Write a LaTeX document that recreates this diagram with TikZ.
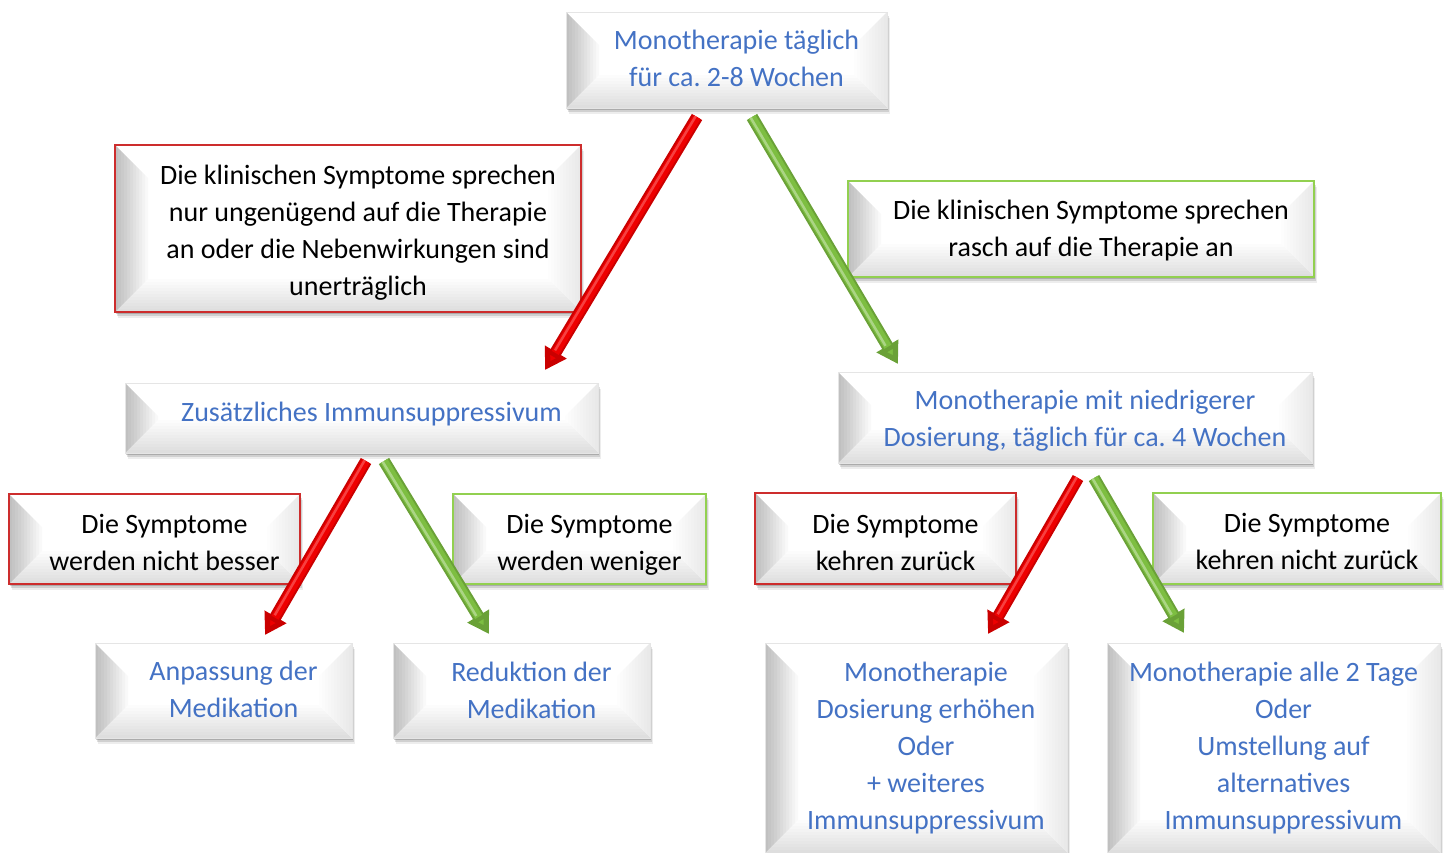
\documentclass[tikz,border=0pt]{standalone}
\usepackage{fontspec}
\setmainfont{Carlito}
\usetikzlibrary{arrows.meta,shadows,calc}
\frenchspacing
\definecolor{txtblue}{RGB}{68,114,196}
\definecolor{boxred}{RGB}{205,45,45}
\definecolor{boxgreen}{RGB}{146,208,80}
\definecolor{arrred}{RGB}{238,0,0}
\definecolor{arrgreen}{RGB}{125,190,65}
\tikzset{
  bevelbox/.style={rectangle, draw=black!10, line width=0.8pt, fill=white,
    drop shadow={shadow xshift=1pt, shadow yshift=-2pt, opacity=0.18, fill=black},
    drop shadow={shadow xshift=2pt, shadow yshift=-4pt, opacity=0.12, fill=black},
    drop shadow={shadow xshift=3pt, shadow yshift=-6pt, opacity=0.07, fill=black},
    path picture={
      \path let \p1=(path picture bounding box.north west), \p2=(path picture bounding box.south east) in
        \pgfextra{\xdef\bxa{\x1}\xdef\bya{\y1}\xdef\bxb{\x2}\xdef\byb{\y2}};
      \foreach \d in {3,6,...,33}{
        \fill[black, opacity=0.022] (\bxa,\bya) -- (\bxa+\d pt,\bya-\d pt) -- (\bxa+\d pt,\byb+\d pt) -- (\bxa,\byb) -- cycle;
        \fill[black, opacity=0.010] (\bxa,\byb) -- (\bxa+\d pt,\byb+\d pt) -- (\bxb-\d pt,\byb+\d pt) -- (\bxb,\byb) -- cycle;
        \fill[black, opacity=0.008] (\bxb,\bya) -- (\bxb-\d pt,\bya-\d pt) -- (\bxb-\d pt,\byb+\d pt) -- (\bxb,\byb) -- cycle;
      }
    }},
  plainbox/.style={bevelbox},
  redbox/.style={bevelbox, draw=boxred, line width=2pt},
  greenbox/.style={bevelbox, draw=boxgreen, line width=2pt},
  bluetxt/.style={align=center, text=txtblue, font=\fontsize{28}{37}\selectfont, inner sep=0pt},
  blacktxt/.style={align=center, text=black, font=\fontsize{28}{37}\selectfont, inner sep=0pt},
  redarrow/.style={line width=12pt, draw=arrred!85!black, -{Triangle[width=24pt,length=21pt,fill=arrred]}},
  greenarrow/.style={line width=12pt, draw=arrgreen!85!black, -{Triangle[width=24pt,length=21pt,fill=arrgreen]}},
  redcore/.style={line width=8pt, draw=arrred, shorten >=20pt},
  greencore/.style={line width=8pt, draw=arrgreen, shorten >=20pt},
  redhl/.style={line width=2.5pt, draw=red!50!white, opacity=0.5, shorten >=22pt},
  greenhl/.style={line width=2.5pt, draw=arrgreen!40!white, opacity=0.6, shorten >=22pt},
}
\begin{document}
\begin{tikzpicture}[x=1pt,y=-1pt]
\useasboundingbox (0,0) rectangle (1449,853);
% boxes
\node[plainbox, minimum width=321pt, minimum height=96pt] (b1) at (726.5,60) {};
\node[bluetxt] (t1) at ([xshift=10pt,yshift=1.5pt]b1.center) {Monotherapie täglich\\für ca. 2-8 Wochen};

\node[redbox, minimum width=466pt, minimum height=167pt] (c1) at (348,228.5) {};
\node[blacktxt] (u1) at ([xshift=10pt,yshift=-4pt]c1.center) {Die klinischen Symptome sprechen\\nur ungenügend auf die Therapie\\an oder die Nebenwirkungen sind\\unerträglich};

\node[greenbox, minimum width=466pt, minimum height=96pt] (c2) at (1081,229) {};
\node[blacktxt] (u2) at ([xshift=10pt,yshift=-2pt]c2.center) {Die klinischen Symptome sprechen\\rasch auf die Therapie an};

\node[plainbox, minimum width=473pt, minimum height=70pt] (b2) at (361.5,418) {};
\node[bluetxt] (t2) at ([xshift=10pt,yshift=4pt]b2.center) {Zusätzliches Immunsuppressivum};

\node[plainbox, minimum width=474pt, minimum height=91pt] (b3) at (1075,417.5) {};
\node[bluetxt] (t3) at ([xshift=10pt,yshift=-3.5pt]b3.center) {Monotherapie mit niedrigerer\\Dosierung, täglich für ca. 4 Wochen};

\node[redbox, minimum width=291pt, minimum height=90pt] (c3) at (154.5,539) {};
\node[blacktxt] (u3) at ([xshift=10pt,yshift=-3pt]c3.center) {Die Symptome\\werden nicht besser};

\node[greenbox, minimum width=253pt, minimum height=90pt] (c4) at (579.5,539) {};
\node[blacktxt] (u4) at ([xshift=10pt,yshift=-6pt]c4.center) {Die Symptome\\werden weniger};

\node[plainbox, minimum width=257pt, minimum height=95pt] (b4) at (223.5,690.5) {};
\node[bluetxt] (t4) at ([xshift=10pt,yshift=1pt]b4.center) {Anpassung der\\Medikation};

\node[plainbox, minimum width=257pt, minimum height=95pt] (b5) at (521.5,690.5) {};
\node[bluetxt] (t5) at ([xshift=10pt,yshift=0pt]b5.center) {Reduktion der\\Medikation};

\node[redbox, minimum width=261pt, minimum height=91pt] (c5) at (885.5,538.5) {};
\node[blacktxt] (u5) at ([xshift=10pt,yshift=-4pt]c5.center) {Die Symptome\\kehren zurück};

\node[greenbox, minimum width=288pt, minimum height=91pt] (c6) at (1297,538.5) {};
\node[blacktxt] (u6) at ([xshift=10pt,yshift=-3pt]c6.center) {Die Symptome\\kehren nicht zurück};

\node[plainbox, minimum width=302pt, minimum height=210pt] (b6) at (916,748) {};
\node[bluetxt] (t6) at ([xshift=10pt]b6.center) {Monotherapie\\Dosierung erhöhen\\Oder\\+ weiteres\\Immunsuppressivum};

\node[plainbox, minimum width=333pt, minimum height=210pt] (b7) at (1273.5,748) {};
\node[bluetxt] (t7) at ([xshift=10pt]b7.center) {Monotherapie alle 2 Tage\hspace*{20pt}\\Oder\\Umstellung auf\\alternatives\\Immunsuppressivum};

% arrow end points
\coordinate (a1s) at (697,117); \coordinate (a1e) at (545,370);
\coordinate (a2s) at (752,117); \coordinate (a2e) at (898,364);
\coordinate (a3s) at (366,461); \coordinate (a3e) at (265,635);
\coordinate (a4s) at (384,461); \coordinate (a4e) at (489,634);
\coordinate (a5s) at (1078,478); \coordinate (a5e) at (988,634);
\coordinate (a6s) at (1094,478); \coordinate (a6e) at (1184,633);

\foreach \s/\e/\c in {a1s/a1e/red, a3s/a3e/red, a5s/a5e/red, a2s/a2e/green, a4s/a4e/green, a6s/a6e/green}{
  \draw[\c arrow] (\s) -- (\e);
  \draw[\c core] (\s) -- (\e);
  \draw[\c hl] ($(\s)!1.5pt!-90:(\e)$) -- ($(\e)!1.5pt!90:(\s)$);
}
\end{tikzpicture}
\end{document}
